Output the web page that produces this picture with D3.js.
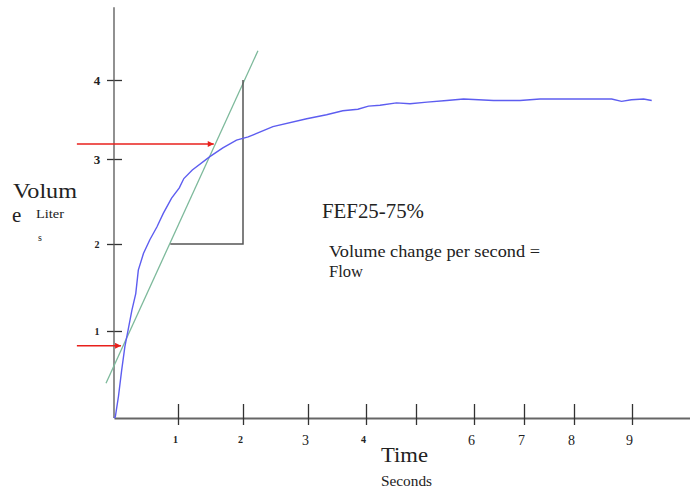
<!DOCTYPE html>
<html>
<head>
<meta charset="utf-8">
<script src="https://cdn.jsdelivr.net/npm/d3@7"></script>
<style>
  body { margin: 0; background: #fff; }
  svg text { font-family: "Liberation Serif", "DejaVu Serif", serif; fill: #222; }
</style>
</head>
<body>
<svg id="chart" width="690" height="494"></svg>
<script>
// hand-drawn axes: tick spacing is uneven, so the scales are polylinear
var timeTicks = [0, 1, 2, 3, 4, 5, 6, 7, 8, 9, 10];
var volumeTicks = [0, 1, 2, 3, 4];
var timeLabels = ["", "1", "2", "3", "4", "", "6", "7", "8", "9"];
var volumeLabels = ["", "1", "2", "3", "4"];

// expiration curve (seconds, liters)
var curveTime = [0, 0.02, 0.07, 0.12, 0.17, 0.22, 0.28, 0.34, 0.38, 0.46, 0.56, 0.67, 0.77, 0.9, 1.02, 1.09, 1.22, 1.49, 1.69, 1.9, 2.08, 2.46, 2.98, 3.32, 3.6, 3.86, 4.05, 4.28, 4.61, 4.88, 5.19, 5.53, 5.82, 6.39, 6.92, 7.32, 8.65, 8.82, 8.99, 9.2, 9.34];
var curveVolume = [0, 0.01, 0.25, 0.55, 0.82, 1.01, 1.24, 1.43, 1.7, 1.89, 2.05, 2.2, 2.36, 2.54, 2.66, 2.77, 2.87, 3.03, 3.14, 3.24, 3.28, 3.41, 3.51, 3.56, 3.61, 3.63, 3.67, 3.68, 3.71, 3.7, 3.72, 3.74, 3.76, 3.74, 3.74, 3.76, 3.76, 3.73, 3.75, 3.76, 3.74];

// FEF tangent line and its rise/run triangle
var tangentTime = [-0.125, 2.23];
var tangentVolume = [0.4, 4.37];
var triangleTime = [0.88, 2, 2];
var triangleVolume = [2, 2, 4];

// red arrows: [from time, to time, volume]
var arrows = [
  [-0.58, 1.55, 3.19],
  [-0.58, 0.11, 0.83]
];

var svg = d3.select("#chart");

var x = d3.scaleLinear()
  .domain(timeTicks)
  .range([114, 178, 243, 308, 366, 416, 474, 524, 574, 632, 690]);
var y = d3.scaleLinear()
  .domain(volumeTicks)
  .range([418, 331, 244, 159, 80]);

svg.append("defs").append("marker")
  .attr("id", "head")
  .attr("viewBox", "0 0 10 10")
  .attr("refX", 10)
  .attr("refY", 5)
  .attr("markerWidth", 7)
  .attr("markerHeight", 6)
  .attr("markerUnits", "userSpaceOnUse")
  .attr("orient", "auto")
  .append("path")
  .attr("d", "M0,0L10,5L0,10Z")
  .attr("fill", "#e8201c");

var small = [1, 2, 4];

// x axis
var xAxis = svg.append("g")
  .attr("transform", "translate(0," + y(0) + ")")
  .call(d3.axisBottom(x)
    .tickValues(timeTicks.slice(1, 10))
    .tickSizeOuter(0)
    .tickFormat(function(d) { return timeLabels[d]; }));
xAxis.select(".domain").attr("stroke", "#666").attr("stroke-width", 2);
xAxis.selectAll(".tick line")
  .attr("y1", -14).attr("y2", 7)
  .attr("stroke", "#333").attr("stroke-width", 1.3);
xAxis.selectAll(".tick text")
  .attr("y", 0)
  .attr("dx", -3)
  .attr("dy", function(d) { return small.indexOf(d) >= 0 ? 25 : 27; })
  .style("font-size", function(d) { return small.indexOf(d) >= 0 ? "10px" : "14px"; })
  .style("font-weight", function(d) { return small.indexOf(d) >= 0 ? "bold" : "normal"; })
  .attr("fill", "#333");

// y axis
var yAxis = svg.append("g")
  .attr("transform", "translate(" + x(0) + ",0)")
  .call(d3.axisLeft(y)
    .tickValues(volumeTicks.slice(1))
    .tickSizeOuter(0)
    .tickFormat(function(d) { return volumeLabels[d]; }));
yAxis.select(".domain").remove();
yAxis.append("line")
  .attr("x1", 0).attr("x2", 0)
  .attr("y1", y(0)).attr("y2", y(4.92))
  .attr("stroke", "#555").attr("stroke-width", 1.3);
yAxis.selectAll(".tick line")
  .attr("x1", -7).attr("x2", 8)
  .attr("stroke", "#333").attr("stroke-width", 1.3);
yAxis.selectAll(".tick text")
  .attr("x", -17)
  .attr("text-anchor", "middle")
  .attr("dy", "0.35em")
  .style("font-size", function(d) { return d <= 2 ? "10px" : "13px"; })
  .style("font-weight", "bold")
  .attr("fill", "#333");

// tangent line
svg.append("line")
  .attr("x1", x(tangentTime[0])).attr("y1", y(tangentVolume[0]))
  .attr("x2", x(tangentTime[1])).attr("y2", y(tangentVolume[1]))
  .attr("stroke", "#7db99b")
  .attr("stroke-width", 1.3);

// rise / run triangle
svg.append("path")
  .attr("d", d3.line()(triangleTime.map(function(t, i) { return [x(t), y(triangleVolume[i])]; })))
  .attr("fill", "none")
  .attr("stroke", "#555")
  .attr("stroke-width", 1.5);

// volume curve
var line = d3.line()
  .x(function(d, i) { return x(curveTime[i]); })
  .y(function(d) { return y(d); })
  .curve(d3.curveLinear);
svg.append("path")
  .attr("d", line(curveVolume))
  .attr("fill", "none")
  .attr("stroke", "#5d5df0")
  .attr("stroke-width", 1.4);

// arrows
svg.selectAll(".arrow")
  .data(arrows)
  .enter()
  .append("line")
  .attr("class", "arrow")
  .attr("x1", function(d) { return x(d[0]); })
  .attr("x2", function(d) { return x(d[1]); })
  .attr("y1", function(d) { return y(d[2]); })
  .attr("y2", function(d) { return y(d[2]); })
  .attr("stroke", "#e8201c")
  .attr("stroke-width", 1.5)
  .attr("marker-end", "url(#head)");

// labels
function label(px, py, size, str, len) {
  var t = svg.append("text").attr("x", px).attr("y", py).style("font-size", size + "px").text(str);
  if (len) t.attr("textLength", len).attr("lengthAdjust", "spacingAndGlyphs");
  return t;
}
label(13, 198, 21, "Volum", 64);
label(12, 222, 21, "e");
label(36, 218, 13, "Liter", 28);
label(38, 241, 10, "s");

label(322, 218, 20, "FEF25-75%", 102);
label(329, 257, 17, "Volume change per second =", 211);
label(329, 277, 17, "Flow", 34);

label(381, 462, 22, "Time", 47);
label(381, 486, 14, "Seconds", 51);
</script>
</body>
</html>
